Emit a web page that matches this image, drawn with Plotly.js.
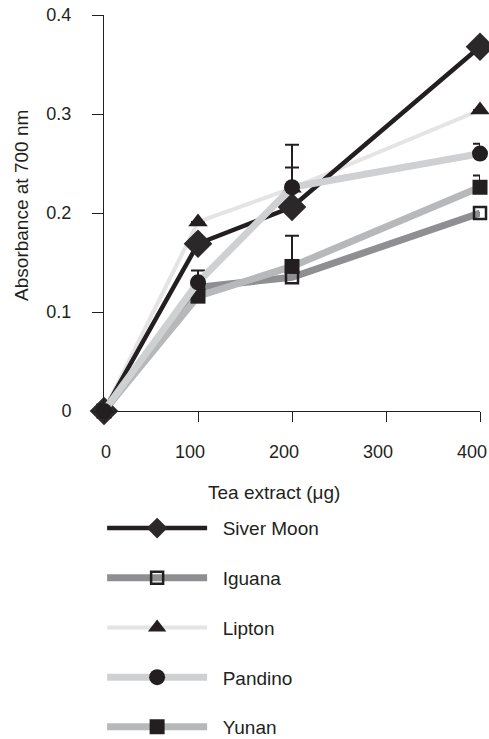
<!DOCTYPE html>
<html>
<head>
<meta charset="utf-8">
<script src="https://cdn.plot.ly/plotly-3.0.1.min.js"></script>
<style>html,body{margin:0;padding:0;background:#fff;overflow:hidden;}#chart{width:489px;height:770px;}</style>
</head>
<body>
<div id="chart"></div>
<script>
const xValues = [0, 100, 200, 400];
const seriesNames = ["Siver Moon", "Iguana", "Lipton", "Pandino", "Yunan"];
const siverMoon = [0, 0.169, 0.206, 0.368];
const iguana = [0, 0.125, 0.135, 0.200];
const lipton = [0, 0.191, 0.225, 0.304];
const pandino = [0, 0.130, 0.226, 0.260];
const yunan = [0, 0.116, 0.146, 0.226];
const siverMoonErr = [0, 0, 0.040, 0];
const iguanaErr = [0, 0, 0, 0];
const liptonErr = [0, 0, 0, 0];
const pandinoErr = [0, 0.012, 0.043, 0.010];
const yunanErr = [0, 0, 0.031, 0.012];
const xTicks = [0, 100, 200, 300, 400];
const yTicks = [0, 0.1, 0.2, 0.3, 0.4];
const xTitle = "Tea extract (\u03bcg)";
const yTitle = "Absorbance at 700 nm";

const ink = "#231f20";
const pad = "\u00a0\u00a0";
function mk(name, y, err, lineColor, lineWidth, symbol, size, mColor, mLine, rank) {
  return {
    type: "scatter", mode: "lines+markers", name: pad + name, x: xValues, y: y,
    legendgroup: name, legendrank: rank, cliponaxis: false,
    line: {color: lineColor, width: lineWidth},
    marker: {symbol: symbol, size: size, color: mColor, line: mLine},
    error_y: {type: "data", symmetric: false, array: err, arrayminus: [0,0,0,0], color: ink, thickness: 2, width: 7}
  };
}
const traces = [
  mk(seriesNames[2], lipton, liptonErr, "#e4e4e5", 4, "triangle-up", 17, ink, {width: 0}, 3),
  mk(seriesNames[1], iguana, iguanaErr, "#8f8f91", 7, "square-open", 12, ink, {width: 2.5, color: ink}, 2),
  mk(seriesNames[4], yunan, yunanErr, "#b7b8ba", 7, "square", 15, ink, {width: 0}, 5),
  mk(seriesNames[0], siverMoon, siverMoonErr, ink, 4.5, "diamond", 22, "#2b2829", {width: 0}, 1),
  mk(seriesNames[3], pandino, pandinoErr, "#cfd0d2", 7, "circle", 16, ink, {width: 0}, 4)
];

const fontFam = "Liberation Sans, Arial, Helvetica, sans-serif";
const layout = {
  width: 489, height: 770,
  margin: {l: 104, r: 9, t: 15, b: 359},
  paper_bgcolor: "#fff", plot_bgcolor: "#fff",
  font: {family: fontFam, size: 19, color: ink},
  showlegend: true,
  legend: {x: -0.005, y: -0.248, xanchor: "left", yanchor: "top", tracegroupgap: 22,
           itemwidth: 100, font: {size: 19, color: ink}, bgcolor: "rgba(0,0,0,0)"},
  xaxis: {
    range: [0, 400], tickvals: xTicks, ticktext: xTicks.map(v => v === 0 ? "\u00a0\u00a0\u00a0\u00a00" : String(v)),
    showline: true, linecolor: ink, linewidth: 1, ticks: "outside", ticklen: 10, tickcolor: ink,
    showgrid: false, zeroline: false, ticklabelstandoff: 14, ticklabelshift: -8, ticklabeloverflow: "allow",
    tickfont: {size: 18}
  },
  yaxis: {
    range: [0, 0.4], tickvals: yTicks, ticktext: yTicks.map(v => v === 0 ? "0" : v.toFixed(1)),
    showline: true, linecolor: ink, linewidth: 1, ticks: "outside", ticklen: 11, tickcolor: ink,
    showgrid: false, zeroline: false, ticklabelstandoff: 17, tickfont: {size: 18}
  },
  annotations: [
    {text: xTitle, xref: "paper", yref: "paper", x: 0.452, y: -0.207, xanchor: "center", yanchor: "middle",
     showarrow: false, font: {size: 19, color: ink}},
    {text: yTitle, xref: "paper", yref: "paper", x: -0.218, y: 0.518, xanchor: "center", yanchor: "middle",
     textangle: -90, showarrow: false, font: {size: 19, color: ink}}
  ]
};
Plotly.newPlot("chart", traces, layout, {displayModeBar: false, staticPlot: true});
</script>
</body>
</html>
